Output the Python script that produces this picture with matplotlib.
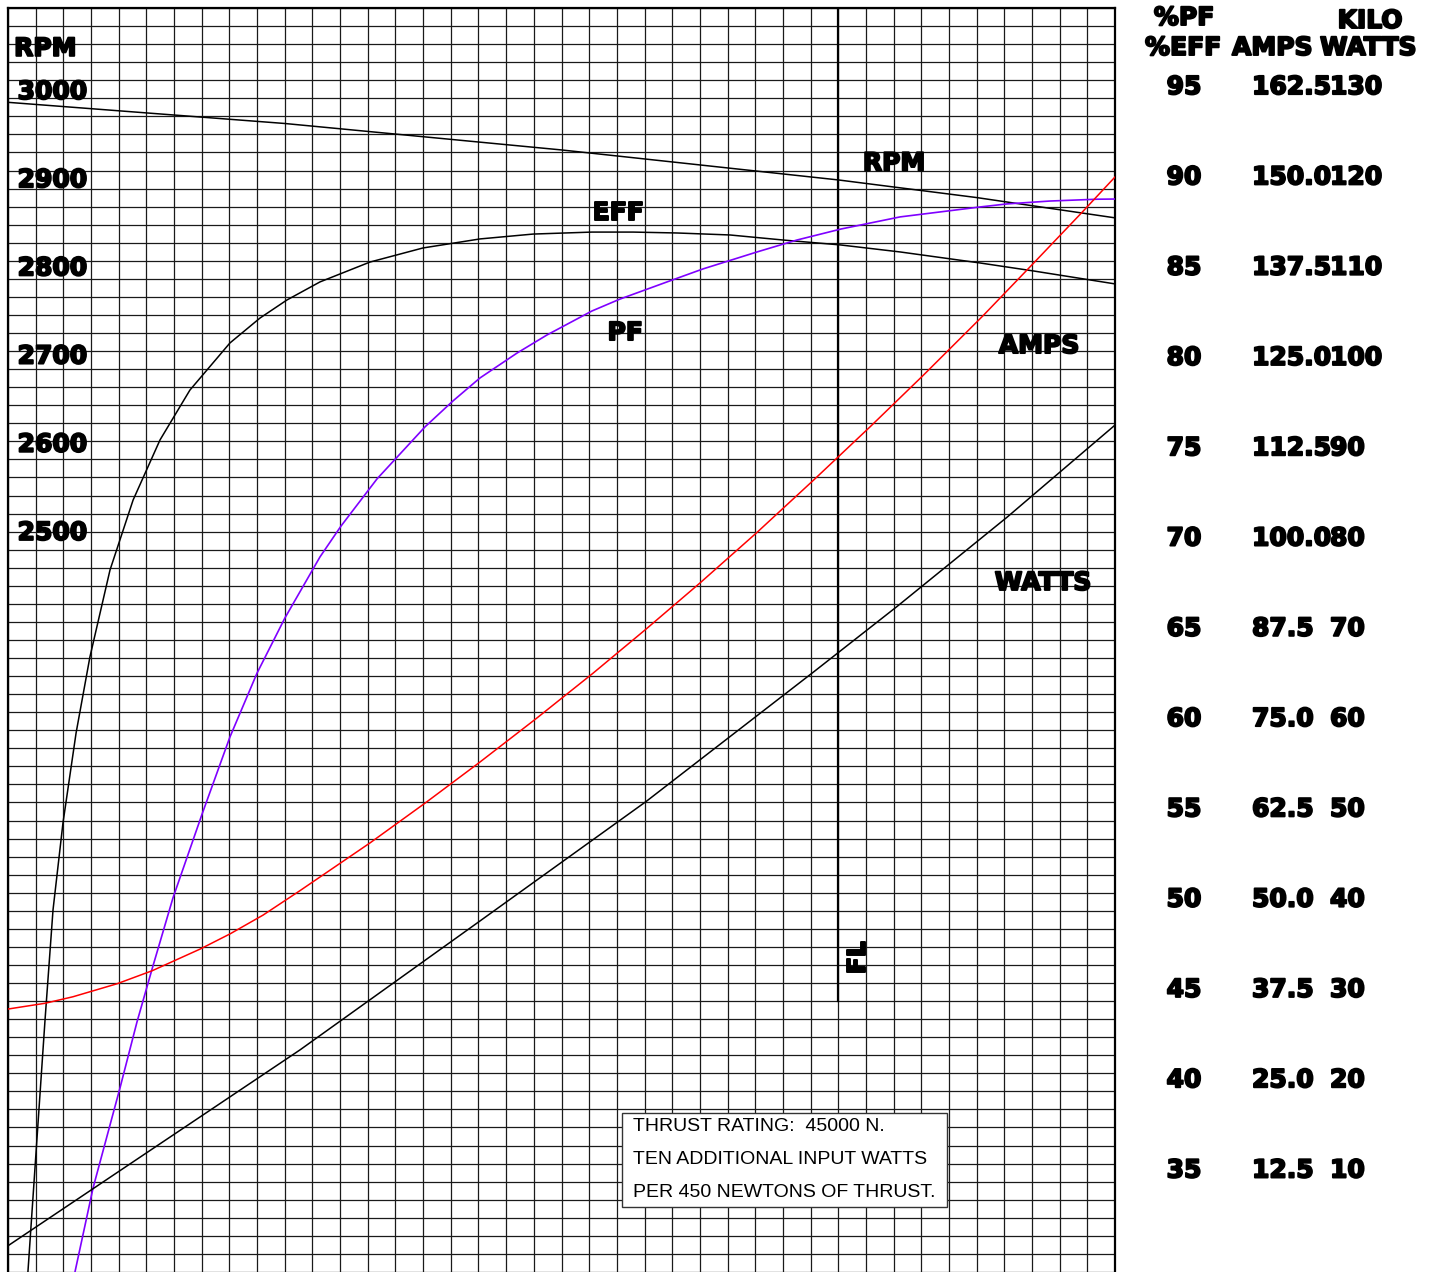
import numpy as np
import matplotlib
matplotlib.use("Agg")
import matplotlib.pyplot as plt
from matplotlib.patches import Rectangle
import matplotlib.transforms as mtransforms
import matplotlib.patheffects as pe

# ---------------- data (thrust in N) ----------------
rpm_thrust = [0, 15000, 30000, 45000, 52500, 60000]
rpm_vals = [2986, 2962, 2932, 2898, 2878, 2855]

eff_thrust = [1080, 2010, 2440, 2980, 3690, 4440, 5530, 6780, 8240, 9860, 12030, 13660,
              15120, 16910, 19620, 22490, 25580, 28460, 31650, 33880, 36260, 39130,
              42010, 45100, 48350, 52680, 55560, 60000]
eff_vals = [29.0, 43.0, 49.05, 53.87, 58.85, 63.06, 67.88, 71.75, 75.08, 77.84, 80.45, 81.83,
            82.83, 83.83, 84.93, 85.71, 86.21, 86.48, 86.59, 86.59, 86.54, 86.43,
            86.15, 85.88, 85.49, 84.88, 84.44, 83.72]

pf_thrust = [3630, 4610, 6070, 6990, 7810, 8940, 10520, 12030, 13500, 15010, 16910,
             18050, 20000, 22600, 24120, 25580, 27590, 29210, 31650, 33170, 35720,
             37670, 40600, 42760, 45150, 48350, 52680, 54150, 56480, 59020, 60000]
pf_vals = [29.0, 33.65, 39.19, 42.84, 45.78, 49.71, 54.36, 58.63, 62.17, 65.22, 68.60,
           70.31, 72.92, 75.80, 77.24, 78.51, 79.89, 80.89, 82.22, 82.88, 83.83,
           84.55, 85.49, 86.15, 86.76, 87.43, 87.98, 88.15, 88.31, 88.41, 88.42]

amps_thrust = [0, 2010, 3520, 5910, 7810, 10410, 12030, 13820, 15830, 19620, 22600,
               25530, 28620, 31710, 34580, 37510, 40600, 43690, 46720, 49590, 52850,
               55560, 58210, 60000]
amps_vals = [33.9, 34.7, 35.6, 37.4, 39.2, 42.2, 44.3, 46.9, 50.3, 56.9, 62.4,
             68.0, 74.1, 80.4, 86.5, 92.9, 99.9, 107.2, 114.5, 121.6, 129.9,
             137.1, 144.2, 149.1]

kw_thrust = [0, 15830, 25530, 34580, 43690, 48180, 54150, 60000]
kw_vals = [0.9, 22.6, 36.8, 50.1, 64.5, 71.7, 81.6, 91.8]

rpm_ticks = [3000, 2900, 2800, 2700, 2600, 2500]
pf_ticks = [95, 90, 85, 80, 75, 70, 65, 60, 55, 50, 45, 40, 35]
amps_ticks = [162.5, 150.0, 137.5, 125.0, 112.5, 100.0, 87.5, 75.0, 62.5, 50.0, 37.5, 25.0, 12.5]
kw_ticks = [130, 120, 110, 100, 90, 80, 70, 60, 50, 40, 30, 20, 10]

full_load = 45000
note_lines = ["THRUST RATING:  45000 N.",
              "TEN ADDITIONAL INPUT WATTS",
              "PER 450 NEWTONS OF THRUST."]


# scale conversions onto the common percent grid
def amps_to_pct(a):
    return 35 + (np.asarray(a, dtype=float) - 12.5) / 2.5


def kw_to_pct(k):
    return 35 + (np.asarray(k, dtype=float) - 10) / 2.0


def rpm_to_pct(r):
    return 94.46 + (np.asarray(r, dtype=float) - 3000) * 0.04884


# ---------------- figure ----------------
W, H = 1440, 1272
fig = plt.figure(figsize=(W / 100, H / 100), dpi=100)
ax = fig.add_axes([8 / W, 1 - 1290 / H, 1107 / W, 1282 / H])
ax.set_xlim(0, 60000)
ax.set_ylim(28, 99)

# grid
for xv in np.arange(0, 60001, 1500):
    ax.axvline(xv, color="#1a1a1a", lw=0.9, zorder=1)
for yv in np.arange(28, 100, 1):
    ax.axhline(yv, color="#1a1a1a", lw=0.9, zorder=1)

ax.set_xticks([])
ax.set_yticks([])
for s in ax.spines.values():
    s.set_linewidth(1.6)
    s.set_color("black")
ax.spines["bottom"].set_visible(False)

# full-load line
ax.plot([full_load, full_load], [44, 99], color="black", lw=1.6, zorder=3)

# curves
ax.plot(rpm_thrust, rpm_to_pct(rpm_vals), color="black", lw=1.1, zorder=4)
ax.plot(eff_thrust, eff_vals, color="black", lw=1.1, zorder=4)
ax.plot(pf_thrust, pf_vals, color="#7f00ff", lw=1.2, zorder=4)
ax.plot(amps_thrust, amps_to_pct(amps_vals), color="#ff0000", lw=1.1, zorder=4)
ax.plot(kw_thrust, kw_to_pct(kw_vals), color="black", lw=1.1, zorder=4)

heavy = [pe.withStroke(linewidth=1.4, foreground="black")]
bold = dict(family="DejaVu Sans", fontweight="bold", fontsize=18, color="black",
            path_effects=heavy)

# left RPM scale labels (inside the grid)
ax.text(330, 96.35, "RPM", ha="left", va="baseline", zorder=6, **bold)
for r in rpm_ticks:
    ax.text(520, rpm_to_pct(r) - 0.5, f"{r}", ha="left", va="baseline", zorder=6, **bold)

# curve labels
ax.text(48020, 90.0, "RPM", ha="center", va="baseline", zorder=6, **bold)
ax.text(33060, 87.26, "EFF", ha="center", va="baseline", zorder=6, **bold)
ax.text(33450, 80.61, "PF", ha="center", va="baseline", zorder=6, **bold)
ax.text(55880, 79.89, "AMPS", ha="center", va="baseline", zorder=6, **bold)
ax.text(56100, 66.77, "WATTS", ha="center", va="baseline", zorder=6, **bold)
ax.text(46070, 46.39, "FL", ha="center", va="center", rotation=90, zorder=6, **bold)

# note box
ax.add_patch(Rectangle((33260, 32.62), 50890 - 33260, 37.82 - 32.62,
                       facecolor="white", edgecolor="#333333", lw=1.0, zorder=5))
for i, line in enumerate(note_lines):
    ax.text(33875, 36.81 - i * 1.83, line, ha="left", va="baseline",
            family="Liberation Sans", fontsize=14, color="black", zorder=6)

# right-hand scales
tr = mtransforms.blended_transform_factory(fig.transFigure, ax.transData)
ax.text(1184 / W, 1 - 25 / H, "%PF", transform=fig.transFigure, ha="center", va="baseline", **bold)
ax.text(1183 / W, 1 - 55 / H, "%EFF", transform=fig.transFigure, ha="center", va="baseline", **bold)
ax.text(1232 / W, 1 - 55 / H, "AMPS", transform=fig.transFigure, ha="left", va="baseline", **bold)
ax.text(1370 / W, 1 - 28 / H, "KILO", transform=fig.transFigure, ha="center", va="baseline", **bold)
ax.text(1320 / W, 1 - 55 / H, "WATTS", transform=fig.transFigure, ha="left", va="baseline", **bold)

for p, a, k in zip(pf_ticks, amps_ticks, kw_ticks):
    yb = p - 0.77
    ax.text(1184 / W, yb, f"{p}", transform=tr, ha="center", va="baseline", clip_on=False, **bold)
    ax.text(1252 / W, yb, f"{a:.1f}", transform=tr, ha="left", va="baseline", clip_on=False, **bold)
    ax.text(1330 / W, yb, f"{k}", transform=tr, ha="left", va="baseline", clip_on=False, **bold)

fig.savefig("out.png", dpi=100, facecolor="white")
